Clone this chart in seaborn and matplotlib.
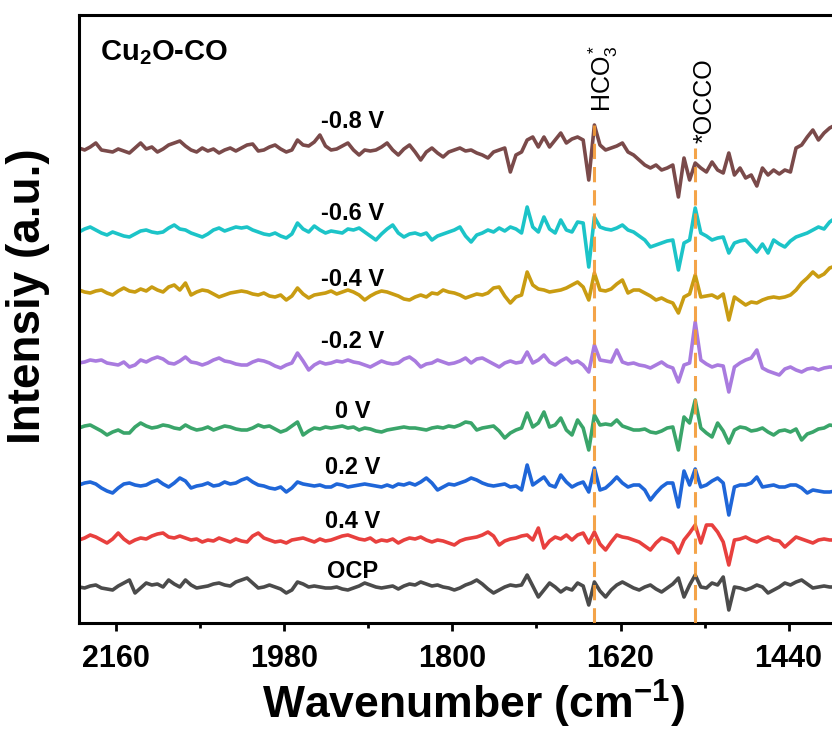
import matplotlib
matplotlib.use("Agg")
import numpy as np
import pandas as pd
import matplotlib.pyplot as plt
import seaborn as sns

sns.set_style("white")
plt.rcParams["font.family"] = ["Liberation Sans", "DejaVu Sans"]
plt.rcParams["mathtext.fontset"] = "custom"
plt.rcParams["mathtext.rm"] = "Liberation Sans"
plt.rcParams["mathtext.it"] = "Liberation Sans:italic"
plt.rcParams["mathtext.bf"] = "Liberation Sans:bold"
plt.rcParams["lines.solid_joinstyle"] = "round"
plt.rcParams["lines.solid_capstyle"] = "round"
plt.rcParams["text.color"] = "black"
plt.rcParams["axes.labelcolor"] = "black"
plt.rcParams["xtick.color"] = "black"
plt.rcParams["ytick.color"] = "black"

# measurement grid, 6 cm-1 step
wavenumber = np.arange(2200, 1388, -6)

potentials = ["OCP", "0.4 V", "0.2 V", "0 V", "-0.2 V", "-0.4 V", "-0.6 V", "-0.8 V"]

# spectra (a.u.), 2200 -> 1390 cm-1
spec_ocp = [0, -1, 1, 2, -1, -2, -3, 1, 4, 7,
            -6, -1, 4, 2, 3, 0, 7, 3, 0, 7,
            2, -1, 0, 1, 3, 4, 2, 1, 5, 7,
            9, 4, -1, 0, 2, 0, -2, -6, -3, 5,
            3, 0, 1, 0, -1, -1, 0, -2, -3, -1,
            1, 4, 2, 0, -1, 0, 1, -2, 1, 3,
            2, 5, 3, 1, 2, 0, -1, -3, -1, 2,
            4, 7, 3, -2, -6, -3, 0, 2, 1, 2,
            12, 1, -10, -3, 4, 0, -5, -1, -3, 4,
            1, -18, 5, -4, -10, -3, 2, 5, 2, -1,
            -3, 0, 2, -2, -5, -1, 3, 9, -10, 2,
            12, 0, -1, 4, 2, 10, -23, 0, -1, -3,
            -1, 2, 0, -6, -3, 0, 4, 2, 5, 7,
            3, -1, 0, 1, 0, 0]
spec_04 = [-2, 0, 3, 1, -2, -5, -1, 5, -1, -5,
           -2, 0, -1, 2, 4, 5, 1, 0, 2, 0,
           -2, -1, -4, -2, -3, 0, -2, -4, -1, -3,
           -4, 2, 5, 0, -2, -4, -3, -5, -2, -1,
           0, -2, -4, -1, -3, -2, 0, 2, 3, 1,
           -1, -2, 0, -4, -2, -3, -1, -5, -2, 0,
           -1, 1, -2, -4, -2, -3, -5, -7, -3, -1,
           0, 1, 3, 6, 2, -7, -3, -1, 0, 2,
           3, -2, 10, -10, -3, 1, -1, 3, -2, 3,
           5, -5, 6, -6, -12, -4, 3, 1, 0, -2,
           -4, -8, -12, -5, 0, -2, -5, -15, -2, 5,
           13, -5, 13, 13, 6, -4, -27, -2, -1, 1,
           -2, -4, -1, 1, -2, -3, -9, -4, 1, -1,
           -3, -5, -2, -1, -2, -2]
spec_02 = [0, 2, 3, 1, -3, -6, -8, -3, 1, 2,
           0, -1, 0, 3, 5, 1, -2, 2, 7, 4,
           -3, -1, 0, 2, -1, 0, 3, 1, 2, 5,
           7, 3, 0, -1, -3, -4, -2, -7, -3, 3,
           1, 0, -1, 0, -2, -2, 1, 0, -2, -1,
           0, 1, 0, -1, -2, 0, -2, 1, 0, 2,
           0, 3, 7, 2, -5, -2, 1, 0, 2, 4,
           7, 5, 2, 0, -1, 0, 1, -2, -1, -5,
           20, 0, 4, 8, 0, -2, 10, 3, -2, 1,
           3, -7, 17, -5, -3, 2, 8, 2, -2, 0,
           0, -5, -15, -8, -2, 2, 2, -22, 14, 0,
           16, -2, 0, 4, 7, 2, -30, -2, 0, 0,
           2, 8, -2, -1, 0, -2, -2, 0, 0, -3,
           -8, -5, -6, -7, -7, -6]
spec_0 = [0, 2, 3, 0, -3, -7, -4, -2, -5, -5,
          1, 5, 2, 0, 1, 3, 2, 0, -1, 3,
          0, -2, -1, 1, -2, 0, 2, 1, -1, -2,
          -2, 0, 3, 1, 2, -1, -4, -2, 2, 6,
          -7, -3, 0, -1, 1, 0, 1, 2, 0, 1,
          -2, 0, -1, -3, -4, -2, -1, 0, 1, 0,
          0, -1, -2, 0, 1, 0, 2, 1, 3, 6,
          5, -2, 0, 1, 2, -3, -10, -5, -2, 0,
          15, 1, 5, 16, 1, 3, 10, -2, -7, 8,
          0, -22, 13, 3, 4, 3, 8, 2, 0, -2,
          -2, -1, -4, -5, -3, 0, 1, -22, 11, 5,
          28, 0, -5, -9, 5, -3, -15, -2, 1, 0,
          -3, -2, 0, -4, -7, -3, -2, -4, -1, -12,
          -6, -4, -1, 0, 3, 2]
spec_m02 = [0, 1, 3, 2, 3, 0, -1, -2, 1, -4,
            -2, 3, 1, 4, 6, 4, 0, -1, 2, 6,
            1, 0, -2, 0, 3, 5, 2, 1, -1, -2,
            -2, 1, 3, 2, 0, -3, -5, -2, 0, 10,
            2, -7, -2, 1, -1, 0, 2, 1, 3, 1,
            0, -2, -4, -1, 2, 0, -1, 0, 4, 6,
            2, -4, -1, 0, 3, 1, -1, 0, 2, 5,
            0, 4, 5, 2, -1, -4, 0, 2, 0, 1,
            11, 0, 3, 8, 1, -2, 2, 5, 0, 2,
            -2, -9, 18, 3, 2, 1, 13, 1, -1, 0,
            -2, -3, -5, -2, 1, -3, -5, -19, -2, 0,
            41, 3, -1, -4, -2, -3, -29, -4, 0, 3,
            5, 13, -5, -8, -10, -12, -6, -4, -7, -9,
            -6, -5, -7, -5, -4, -4]
spec_m04 = [2, 0, -1, 1, 2, -1, -3, 1, 4, 1,
            0, 3, 1, 5, 2, 0, 5, 7, 2, 9,
            -3, 0, 2, 1, -2, -5, -3, -1, 0, 1,
            0, -2, -3, -1, -4, -5, -3, -8, -4, 4,
            -2, -6, -3, -2, -1, 1, -2, 0, 2, 0,
            -3, -8, -4, -1, 1, 0, -2, -4, -7, -8,
            -5, -3, -5, -1, -2, 2, 0, -1, -3, -6,
            -4, -2, -3, -1, 4, 5, -4, -11, -5, -3,
            20, 7, 3, 2, 0, 1, 2, 4, 7, 10,
            5, -8, 19, 2, 1, 3, 8, 12, -1, 2,
            2, -1, -4, -8, -6, -9, -11, -21, -5, -2,
            17, -5, -4, -3, -6, -2, -28, -5, -9, -13,
            -10, -11, -8, -6, -5, -6, -5, -3, 2, 9,
            14, 20, 15, 18, 24, 26]
spec_m06 = [0, 3, 5, 2, -1, -3, 0, -2, -4, -5,
            -2, 1, 2, 0, -1, 0, 4, 7, 3, 2,
            -1, -3, -5, -2, 2, 4, 1, 3, 5, 4,
            5, 2, 0, -2, -3, -1, -4, -6, -2, 9,
            3, 0, 6, 2, -1, 1, 0, -1, 3, 2,
            4, 0, -4, -8, -2, 3, 7, -1, -5, -2,
            -1, -3, -1, -8, -4, -2, 0, 2, 5, -4,
            -10, -3, -1, 2, 0, 4, 1, 5, 3, -1,
            25, 5, 0, 15, 3, -1, 12, 2, 0, 10,
            9, -35, 15, 5, 3, 2, 4, 7, 2, 0,
            -4, -8, -15, -13, -11, -9, -8, -38, -11, -8,
            24, -1, -4, -8, -6, -5, -21, -11, -9, -8,
            -14, -20, -12, -21, -8, -12, -15, -9, -5, -3,
            -1, 2, 5, 3, 10, 14]
spec_m08 = [0, -2, 1, 5, -2, -3, -4, -1, -3, -5,
            0, 5, -1, 1, -4, -1, 3, 5, 7, 2,
            -2, -4, 0, -3, -1, -5, -2, 0, -3, 0,
            3, 4, -3, -2, 1, 3, -1, -4, -2, 8,
            3, 2, 6, 13, 2, -2, -1, 2, 5, -2,
            -7, -2, -3, -2, 1, 5, -2, -7, -1, 3,
            -4, -12, -4, 0, -5, -9, -4, -2, 0, -3,
            -2, -5, -7, -10, -4, -2, 0, -24, -7, -4,
            8, 11, 1, 11, 1, 8, 15, 5, 9, 11,
            8, -32, 23, 3, -2, 0, 2, 5, -4, -7,
            -12, -17, -20, -17, -22, -20, -17, -49, -10, -32,
            -15, -20, -24, -14, -22, -25, -5, -27, -20, -30,
            -27, -38, -20, -27, -22, -26, -22, -24, 0, 3,
            11, 18, 8, 15, 20, 23]

spectra = [spec_ocp, spec_04, spec_02, spec_0, spec_m02, spec_m04, spec_m06, spec_m08]

# vertical stacking of the traces and label heights
offsets = [36, 85, 138, 195, 260, 331, 391, 475]
label_y = [51, 102, 156, 211, 281, 343, 410, 501]
colors = ["#4b4b4b", "#e8403e", "#1f66d8", "#3aa56a",
          "#a97bdf", "#c99c12", "#1cc4c8", "#7a4a4a"]

# band markers: HCO3* and *OCCO
band_pos = [1648, 1540]
band_top = [498, 475]
band_text = ["HCO$_3^*$", "*OCCO"]
band_text_x = [1638, 1530]
band_text_y = [511, 480]

rows = []
for name, spec, off in zip(potentials, spectra, offsets):
    rows.append(pd.DataFrame({"wavenumber": wavenumber,
                              "y": np.array(spec) + off,
                              "potential": name}))
df = pd.concat(rows, ignore_index=True)

fig = plt.figure(figsize=(8.32, 7.31), dpi=100)
ax = fig.add_axes([79 / 832, 108 / 731, 788 / 832, 608 / 731])

sns.lineplot(data=df, x="wavenumber", y="y", hue="potential",
             palette=dict(zip(potentials, colors)), estimator=None,
             sort=False, lw=2.6, legend=False, ax=ax)

ax.vlines(band_pos, 0, band_top, colors="#f39a35", lw=2.2,
          linestyles=(0, (5, 2.6)), alpha=0.9, zorder=5)
for t, x, y in zip(band_text, band_text_x, band_text_y):
    ax.text(x, y, t, rotation=90, ha="center", va="bottom", fontsize=18)

for name, y in zip(potentials, label_y):
    ax.text(1907, y, name, ha="center", va="center",
            fontsize=17, fontweight="bold")

ax.text(0.027, 0.926, "Cu$_\\mathbf{2}$O-CO", transform=ax.transAxes,
        fontsize=21, fontweight="bold", ha="left", va="baseline")

ax.set_xlim(2200, 1356)
ax.set_ylim(0, 608)
ax.set_xticks([2160, 1980, 1800, 1620, 1440])
ax.set_xticks([2070, 1890, 1710, 1530], minor=True)
ax.set_yticks([])
ax.tick_params(axis="x", which="major", direction="out", length=6, width=2,
               labelsize=22, pad=9, bottom=True, top=False)
ax.tick_params(axis="x", which="minor", direction="out", length=3.5, width=2,
               bottom=True, top=False)
for lab in ax.get_xticklabels():
    lab.set_fontweight("bold")

for s in ax.spines.values():
    s.set_linewidth(2.2)
    s.set_color("black")

ax.set_xlabel("Wavenumber (cm$^{\\mathbf{-1}}$)", fontsize=32, fontweight="bold")
ax.set_ylabel("Intensiy (a.u.)", fontsize=33, fontweight="bold")
ax.xaxis.set_label_coords(0.5, -0.090)
ax.yaxis.set_label_coords(-0.037, 0.538)

plt.savefig("out.png", dpi=100)
plt.close()
